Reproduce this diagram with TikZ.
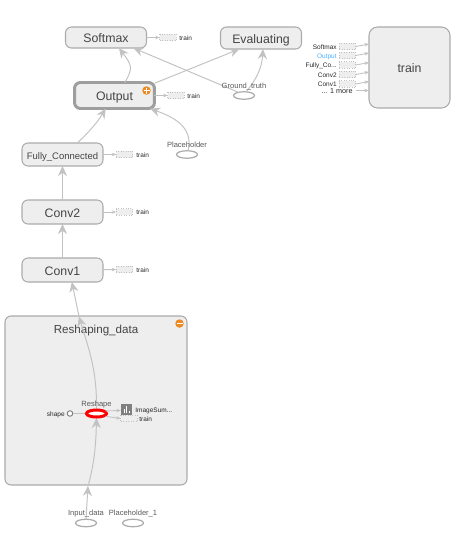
\documentclass[tikz,border=0pt]{standalone}
\usepackage{fontspec}
\setmainfont{Liberation Sans}
\usetikzlibrary{arrows.meta,shapes.geometric}
\definecolor{edgegray}{HTML}{C2C2C2}
\definecolor{boxgray}{HTML}{ABABAB}
\definecolor{boxfill}{HTML}{EEEEEE}
\definecolor{textgray}{HTML}{444444}
\definecolor{badge}{HTML}{EC8A24}
\tikzset{
	opbox/.style={draw=boxgray, line width=0.6pt, fill=boxfill, rounded corners=0.12cm, minimum width=1.62cm, outer sep=0pt, inner sep=0pt, text=textgray, text height=5.8pt, text depth=0pt, font=\fontsize{7}{8}\selectfont},
	oval/.style={draw=boxgray, line width=0.7pt, fill=white, ellipse, minimum width=0.42cm, minimum height=0.15cm, inner sep=0pt, outer sep=0pt},
	dots/.style={draw=edgegray, densely dotted, line width=0.4pt, fill=boxfill, minimum width=0.33cm, minimum height=0.13cm, inner sep=0pt, outer sep=0pt},
	tiny/.style={font=\fontsize{3.7}{4}\selectfont, text=black!85, inner sep=0pt, text height=3.4pt, text depth=0pt},
	oplabel/.style={font=\fontsize{4.3}{5}\selectfont, text=black!65, inner sep=0pt, text height=3.8pt, text depth=0pt},
	flow/.style={draw=edgegray, line width=0.55pt, -{Stealth[length=0.2cm,width=0.18cm]}},
	feed/.style={draw=edgegray, line width=0.5pt, -{Stealth[length=0.09cm,width=0.07cm]}},
}
\begin{document}
\begin{tikzpicture}[x=0.02cm, y=-0.02cm]
	%%%%% START %%%%%
	\useasboundingbox (0, 0) rectangle (460, 555);

	\node[opbox, minimum width=3.64cm, minimum height=3.38cm] (reshaping) at (96, 400.5) {};
	\node[text=textgray, font=\fontsize{6.6}{8}\selectfont, inner sep=0pt, text height=5.6pt, text depth=0pt] (reshapinglabel) at (96, 328.5) {Reshaping\_data};

	\node[opbox, minimum height=0.42cm] (softmax) at (106, 37.5) {Softmax};
	\node[opbox, minimum height=0.44cm] (evaluating) at (261, 38) {Evaluating};
	\node[opbox, line width=1.7pt, draw=black!38, minimum width=1.6cm, minimum height=0.52cm] (output) at (114.5, 95.5) {Output};
	\node[opbox, minimum height=0.46cm, font=\fontsize{5.4}{7}\selectfont] (fully) at (62.5, 154.5) {Fully\_Connected};
	\node[opbox, minimum height=0.48cm] (convtwo) at (62.5, 212) {Conv2};
	\node[opbox, minimum height=0.48cm] (convone) at (62.5, 270) {Conv1};
	\node[opbox, minimum height=1.62cm, rounded corners=0.17cm] (train) at (409.5, 67.5) {train};

	\node[oval] (groundtruth) at (244, 95.5) {};
	\node[oval] (placeholder) at (187, 154.5) {};
	\node[oval] (inputdata) at (86, 523) {};
	\node[oval] (placeholderone) at (133, 523) {};
	\node[circle, draw=black!50, line width=0.55pt, fill=white, minimum size=0.11cm, inner sep=0pt, outer sep=0pt] (shape) at (70, 413.5) {};

	\coordinate (reshapein) at (88, 486);
	\coordinate (reshapeout) at (79, 316.5);
	\coordinate (reshapetop) at (96.5, 409);
	\coordinate (reshapebottom) at (96.5, 418);

	\draw[flow] (output.52) .. controls (134, 68) and (131, 64) .. (softmax.321);
	\draw[flow] (groundtruth.150) -- (softmax.339.4);
	\draw[flow] (output.17) -- (evaluating.207.6);
	\draw[flow] (groundtruth.60) .. controls (256, 80) and (262, 68) .. (evaluating.280.3);
	\draw[flow] (placeholder.72) .. controls (194, 125) and (170, 116) .. (output.340.7);
	\draw[flow] (fully.38.4) .. controls (88, 133) and (97, 123) .. (output.236.8);
	\draw[flow] (convtwo.north) -- (fully.south);
	\draw[flow] (convone.north) -- (convtwo.south);
	\draw[flow] (reshapetop) .. controls (97, 370) and (89, 350) .. (reshapeout);
	\draw[flow] (reshapeout) -- (convone.308.4);
	\draw[flow] (inputdata.north) -- (reshapein);
	\draw[flow] (reshapein) .. controls (95, 462) and (96, 440) .. (reshapebottom);
	\draw[draw=edgegray, line width=0.55pt] (shape) -- (reshapetop |- shape);

	\node[oval, draw=red, line width=1.7pt, minimum width=0.4cm, minimum height=0.14cm] (reshape) at (96.5, 413.5) {};

	\node[oplabel] (groundtruthlabel) at (244, 85.5) {Ground\_truth};
	\node[oplabel] (placeholderlabel) at (187, 144.5) {Placeholder};
	\node[oplabel] (inputlabel) at (86, 512.5) {Input\_data};
	\node[oplabel] (placeholderonelabel) at (133, 512.5) {Placeholder\_1};
	\node[oplabel] (reshapelabel) at (96.5, 403.5) {Reshape};
	\node[tiny, anchor=east] (shapelabel) at (65, 413.5) {shape};

	\node[dots] (softmaxsum) at (168, 37.5) {};
	\node[tiny, anchor=west] (softmaxtrain) at (179, 37.5) {train};
	\draw[feed] (softmax) -- (softmaxsum);
	\node[dots] (outputsum) at (176, 95.5) {};
	\node[tiny, anchor=west] (outputtrain) at (187, 95.5) {train};
	\draw[feed] (output) -- (outputsum);
	\node[dots] (fullysum) at (124.5, 154.5) {};
	\node[tiny, anchor=west] (fullytrain) at (136, 154.5) {train};
	\draw[feed] (fully) -- (fullysum);
	\node[dots] (convtwosum) at (124.5, 212) {};
	\node[tiny, anchor=west] (convtwotrain) at (136, 212) {train};
	\draw[feed] (convtwo) -- (convtwosum);
	\node[dots] (convonesum) at (124.5, 269.5) {};
	\node[tiny, anchor=west] (convonetrain) at (136, 269.5) {train};
	\draw[feed] (convone) -- (convonesum);

	\node[dots] (insoftmax) at (347.5, 46.5) {};
	\node[tiny, anchor=east] (insoftmaxlabel) at (337, 46.5) {Softmax};
	\draw[feed] (insoftmax.east) -- (train.west |- 0, 44);
	\node[dots] (inoutput) at (347.5, 55.5) {};
	\node[tiny, anchor=east, text=blue!45!cyan!70] (inoutputlabel) at (337, 55.5) {Output};
	\draw[feed] (inoutput.east) -- (train.west |- 0, 53);
	\node[dots] (infully) at (347.5, 65) {};
	\node[tiny, anchor=east] (infullylabel) at (337, 65) {Fully\_Co...};
	\draw[feed] (infully.east) -- (train.west |- 0, 62.5);
	\node[dots] (inconvtwo) at (347.5, 74.5) {};
	\node[tiny, anchor=east] (inconvtwolabel) at (337, 74.5) {Conv2};
	\draw[feed] (inconvtwo.east) -- (train.west |- 0, 72);
	\node[dots] (inconvone) at (347.5, 84) {};
	\node[tiny, anchor=east] (inconvonelabel) at (337, 84) {Conv1};
	\draw[feed] (inconvone.east) -- (train.west |- 0, 81.5);
	\node[tiny, anchor=east, font=\fontsize{4.1}{5}\selectfont] (inmore) at (353, 90.5) {... 1 more};
	\draw[feed] (inmore.east) ++(3, 0) -- (train.west |- inmore);

	\node[fill=black!50, minimum size=0.22cm, inner sep=0pt, outer sep=0pt] (imagesum) at (126.5, 409.5) {};
	\fill[white] (123.5, 413) rectangle (124.7, 409);
	\fill[white] (126, 413) rectangle (127.2, 406);
	\fill[white] (128.5, 413) rectangle (129.7, 410.5);
	\node[tiny, anchor=west] (imagesumlabel) at (135, 409.5) {ImageSum...};
	\node[dots] (reshapesum) at (129, 418.5) {};
	\node[tiny, anchor=west] (reshapetrain) at (139, 418.5) {train};
	\draw[feed, shorten <=1.2pt] (reshape.20) -- (imagesum.190);
	\draw[feed, shorten <=1.2pt] (reshape.340) -- (reshapesum.west);

	\node[circle, fill=badge, minimum size=0.17cm, inner sep=0pt, outer sep=0pt] (outputbadge) at (146.5, 90.5) {};
	\draw[white, line width=0.6pt] (143.5, 90.5) -- (149.5, 90.5) (146.5, 87.5) -- (146.5, 93.5);
	\node[circle, fill=badge, minimum size=0.17cm, inner sep=0pt, outer sep=0pt] (reshapingbadge) at (179.5, 323.5) {};
	\draw[white, line width=0.6pt] (176.5, 323.5) -- (182.5, 323.5);
	%%%%% END %%%%%
\end{tikzpicture}
\end{document}
